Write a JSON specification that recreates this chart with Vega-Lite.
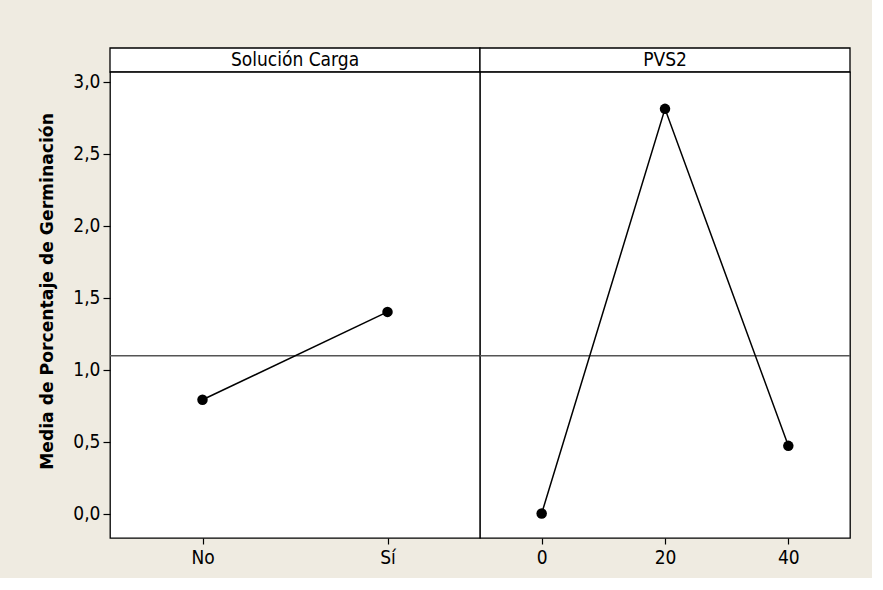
{
  "$schema": "https://vega.github.io/schema/vega-lite/v6.json",
  "background": "#efebe1",
  "padding": {"left": 38, "top": 47, "right": 20, "bottom": 10},
  "config": {
    "font": "DejaVu Sans Condensed",
    "view": {"stroke": "#000000", "strokeWidth": 1.3, "fill": "#ffffff"},
    "axis": {
      "labelFont": "DejaVu Sans Condensed",
      "labelFontSize": 19,
      "labelColor": "#000000",
      "tickColor": "#000000",
      "tickWidth": 1.2,
      "tickSize": 7,
      "labelPadding": 3,
      "domain": false,
      "grid": false,
      "titleFont": "DejaVu Sans",
      "titleColor": "#000000"
    }
  },
  "datasets": {
    "carga": [
      {"Solución Carga": "No", "mean": 0.79},
      {"Solución Carga": "Sí", "mean": 1.40}
    ],
    "pvs": [
      {"PVS2": 0, "mean": 0.0},
      {"PVS2": 20, "mean": 2.81},
      {"PVS2": 40, "mean": 0.47}
    ],
    "grand": [{"mean": 1.095}]
  },
  "columns": 2,
  "spacing": 0,
  "bounds": "flush",
  "concat": [
    {
      "data": {"values": [{"panel": "Solución Carga"}]},
      "width": 370,
      "height": 24,
      "layer": [
        {"mark": {"type": "rect", "fill": "#ffffff", "stroke": "#000000", "strokeWidth": 1.3}, "encoding": {}},
        {
          "mark": {"type": "text", "fontSize": 19, "baseline": "middle", "font": "DejaVu Sans Condensed", "color": "#000000"},
          "encoding": {"text": {"field": "panel"}}
        }
      ]
    },
    {
      "data": {"values": [{"panel": "PVS2"}]},
      "width": 370,
      "height": 24,
      "layer": [
        {"mark": {"type": "rect", "fill": "#ffffff", "stroke": "#000000", "strokeWidth": 1.3}, "encoding": {}},
        {
          "mark": {"type": "text", "fontSize": 19, "baseline": "middle", "font": "DejaVu Sans Condensed", "color": "#000000"},
          "encoding": {"text": {"field": "panel"}}
        }
      ]
    },
    {
      "width": 370,
      "height": 466,
      "layer": [
        {
          "data": {"name": "grand"},
          "mark": {"type": "rule", "color": "#555555", "strokeWidth": 1.5},
          "encoding": {
            "y": {"field": "mean", "type": "quantitative", "scale": {"domain": [-0.17, 3.066], "nice": false, "zero": false}}
          }
        },
        {
          "data": {"name": "carga"},
          "mark": {"type": "line", "color": "#000000", "strokeWidth": 1.5},
          "encoding": {
            "x": {"field": "Solución Carga", "type": "nominal", "sort": ["No", "Sí"], "scale": {"type": "point", "padding": 0.5}, "axis": {"labelAngle": 0, "title": null, "tickSize": 6, "labelPadding": 4}},
            "y": {"field": "mean", "type": "quantitative", "scale": {"domain": [-0.17, 3.066], "nice": false, "zero": false},
              "axis": {"values": [0, 0.5, 1, 1.5, 2, 2.5, 3], "labelExpr": "replace(format(datum.value, '.1f'), '.', ',')", "title": "Media de Porcentaje de Germinación", "titleFontSize": 17.2, "titleFontWeight": "bold", "titlePadding": 16, "titleY": 219}}
          }
        },
        {
          "data": {"name": "carga"},
          "mark": {"type": "point", "filled": true, "color": "#000000", "size": 110, "opacity": 1},
          "encoding": {
            "x": {"field": "Solución Carga", "type": "nominal", "sort": ["No", "Sí"]},
            "y": {"field": "mean", "type": "quantitative"}
          }
        }
      ]
    },
    {
      "width": 370,
      "height": 466,
      "layer": [
        {
          "data": {"name": "grand"},
          "mark": {"type": "rule", "color": "#555555", "strokeWidth": 1.5},
          "encoding": {
            "y": {"field": "mean", "type": "quantitative", "scale": {"domain": [-0.17, 3.066], "nice": false, "zero": false}, "axis": null}
          }
        },
        {
          "data": {"name": "pvs"},
          "mark": {"type": "line", "color": "#000000", "strokeWidth": 1.5},
          "encoding": {
            "x": {"field": "PVS2", "type": "quantitative", "scale": {"domain": [-10, 50], "nice": false, "zero": false}, "axis": {"values": [0, 20, 40], "title": null, "tickSize": 6, "labelPadding": 4}},
            "y": {"field": "mean", "type": "quantitative", "scale": {"domain": [-0.17, 3.066], "nice": false, "zero": false}, "axis": null}
          }
        },
        {
          "data": {"name": "pvs"},
          "mark": {"type": "point", "filled": true, "color": "#000000", "size": 110, "opacity": 1},
          "encoding": {
            "x": {"field": "PVS2", "type": "quantitative"},
            "y": {"field": "mean", "type": "quantitative"}
          }
        }
      ]
    }
  ]
}
